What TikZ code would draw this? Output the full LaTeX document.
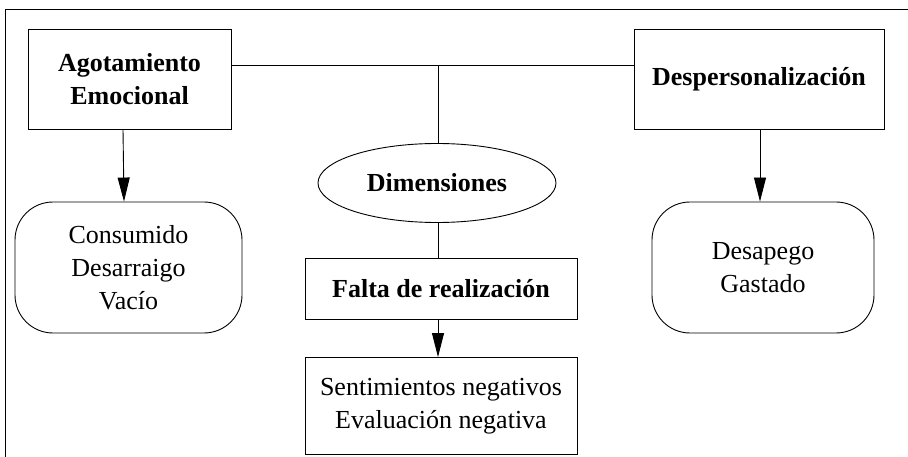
\documentclass[tikz,border=0pt]{standalone}
\usepackage{fontspec}
\setmainfont{Liberation Serif}
\usetikzlibrary{shapes.geometric,arrows.meta}

\newcommand{\diagfont}{\fontsize{26}{33}\selectfont}
\tikzset{
	box/.style={draw, rectangle, inner sep=0pt, align=center, font=\diagfont\bfseries},
	listbox/.style={draw, rectangle, inner sep=0pt, align=center, font=\diagfont},
	roundbox/.style={draw, rectangle, rounded corners=38pt, inner sep=0pt, align=center, font=\diagfont},
	arr/.style={-{Triangle[length=24pt,width=12pt]}}
}

\begin{document}
\begin{tikzpicture}[x=1pt,y=-1pt,line width=0.9pt]
		\useasboundingbox (0,0) rectangle (908,457);
		% frame
		\draw (5,457) -- (5,9) -- (908,9);
		% nodes
		\node[box, minimum width=203pt, minimum height=100pt] (agot) at (129.5,79) {Agotamiento\\Emocional};
		\node[box, minimum width=250pt, minimum height=100pt] (desp) at (759,79) {Despersonalización};
		\node[box, ellipse, minimum width=238pt, minimum height=79pt] (dim) at (437,183) {Dimensiones};
		\node[box, minimum width=272pt, minimum height=61pt] (falta) at (441,288.5) {Falta de realización};
		\node[listbox, minimum width=272pt, minimum height=97pt] (sent) at (441,406) {Sentimientos negativos\\Evaluación negativa};
		\node[roundbox, minimum width=227pt, minimum height=131pt] (cons) at (128.5,267.5) {Consumido\\Desarraigo\\Vacío};
		\node[roundbox, minimum width=222pt, minimum height=131pt] (gast) at (763,267.5) {Desapego\\Gastado};
		\coordinate (top) at (438,65);
		% connectors
		\draw (agot.east |- top) -- (desp.west |- top);
		\draw (top) -- (top |- dim.north);
		\draw (top |- dim.south) -- (top |- falta.north);
		\draw[arr] (top |- falta.south) -- (top |- sent.north);
		\draw[arr] ([xshift=-6.5pt]agot.south) -- ([xshift=-5.5pt]agot.south |- cons.north);
		\draw[arr] ([xshift=1pt]desp.south) -- ([xshift=1pt]desp.south |- gast.north);
		\end{tikzpicture}
\end{document}
